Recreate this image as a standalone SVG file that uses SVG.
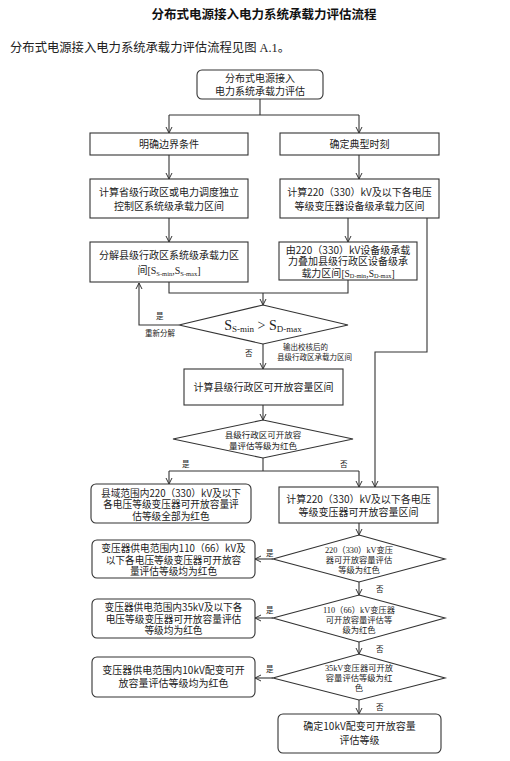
<svg xmlns="http://www.w3.org/2000/svg" width="510" height="761" viewBox="0 0 510 761">
<style>
.bx{fill:#fff;stroke:#333;stroke-width:1.1}
.t{font-family:"Noto Sans CJK SC","Liberation Sans",sans-serif;font-size:10px;fill:#222;text-anchor:middle}
.t3{font-family:"Noto Sans CJK SC","Liberation Sans",sans-serif;font-size:9.7px;fill:#222;text-anchor:middle}
.ts{font-family:"Liberation Serif","Noto Sans CJK SC",serif;font-size:8.3px;fill:#222;text-anchor:middle}
.td{font-family:"Noto Sans CJK SC","Liberation Sans",sans-serif;font-size:8.5px;fill:#222;text-anchor:middle}
.lb{font-family:"Noto Sans CJK SC","Liberation Sans",sans-serif;font-size:7.5px;fill:#222}
.sr{font-family:"Liberation Serif","Noto Sans CJK SC",serif;fill:#222}
.c{fill:none;stroke:#333;stroke-width:1.1}
</style>
<defs>
<marker id="a" markerWidth="8" markerHeight="8" refX="7" refY="4" orient="auto" markerUnits="userSpaceOnUse"><path d="M1,1 L7,4 L1,7" fill="none" stroke="#333" stroke-width="1"/></marker>
</defs>
<rect width="510" height="761" fill="#fff"/>
<text x="264" y="19" font-family="Noto Sans CJK SC,Liberation Sans,sans-serif" font-size="12.5" font-weight="bold" text-anchor="middle" fill="#111">分布式电源接入电力系统承载力评估流程</text>
<text x="10" y="52" font-family="Liberation Serif,Noto Sans CJK SC,serif" font-size="12.5" fill="#222" textLength="280" lengthAdjust="spacingAndGlyphs">分布式电源接入电力系统承载力评估流程见图 A.1。</text>

<g id="connectors">
<path class="c" d="M260,99 V115 M169,115 H359"/>
<path class="c" d="M169,115 V133" marker-end="url(#a)"/>
<path class="c" d="M359,115 V133" marker-end="url(#a)"/>
<path class="c" d="M169,155 V179" marker-end="url(#a)"/>
<path class="c" d="M359,155 V179" marker-end="url(#a)"/>
<path class="c" d="M169,218 V242" marker-end="url(#a)"/>
<path class="c" d="M348,218 V242" marker-end="url(#a)"/>
<path class="c" d="M427,218 V352 H375 V487" marker-end="url(#a)"/>
<path class="c" d="M169,282 V293 H348 V280"/>
<path class="c" d="M263,293 V305" marker-end="url(#a)"/>
<path class="c" d="M179,325 H139 V283" marker-end="url(#a)"/>
<path class="c" d="M263,344 V369" marker-end="url(#a)"/>
<path class="c" d="M263,405 V420" marker-end="url(#a)"/>
<path class="c" d="M263,458 V471 M169,471 H359"/>
<path class="c" d="M169,471 V484" marker-end="url(#a)"/>
<path class="c" d="M359,471 V487" marker-end="url(#a)"/>
<path class="c" d="M359,523 V535" marker-end="url(#a)"/>
<path class="c" d="M273,559 H255" marker-end="url(#a)"/>
<path class="c" d="M359,582 V595" marker-end="url(#a)"/>
<path class="c" d="M273,618 H255" marker-end="url(#a)"/>
<path class="c" d="M359,642 V654" marker-end="url(#a)"/>
<path class="c" d="M273,678 H255" marker-end="url(#a)"/>
<path class="c" d="M359,700 V714" marker-end="url(#a)"/>
<text class="lb" x="156" y="319">是</text>
<text class="lb" x="145" y="336">重新分解</text>
<text class="lb" x="245" y="356">否</text>
<text class="lb" x="283" y="350">输出校核后的</text>
<text class="lb" x="277" y="360">县级行政区承载力区间</text>
<text class="lb" x="182" y="467">是</text>
<text class="lb" x="340" y="467">否</text>
<text class="lb" x="266" y="556">是</text>
<text class="lb" x="376" y="592">否</text>
<text class="lb" x="266" y="613">是</text>
<text class="lb" x="376" y="652">否</text>
<text class="lb" x="266" y="672">是</text>
<text class="lb" x="376" y="710">否</text>
</g>

<g id="start"><rect class="bx" x="197" y="70" width="126" height="29" rx="5"/>
<text class="t" x="260" y="82">分布式电源接入</text><text class="t" x="260" y="95">电力系统承载力评估</text></g>

<g id="boundary"><rect class="bx" x="90" y="133" width="158" height="22"/>
<text class="t" x="169" y="148">明确边界条件</text></g>

<g id="typical"><rect class="bx" x="280" y="133" width="159" height="22"/>
<text class="t" x="359.5" y="148">确定典型时刻</text></g>

<g id="sysCalc"><rect class="bx" x="90" y="179" width="158" height="39"/>
<text class="t" x="169" y="196">计算省级行政区或电力调度独立</text><text class="t" x="169" y="210">控制区系统级承载力区间</text></g>

<g id="devCalc"><rect class="bx" x="280" y="179" width="159" height="39"/>
<text class="t" x="359.5" y="196">计算220（330）kV及以下各电压</text><text class="t" x="359.5" y="210">等级变压器设备级承载力区间</text></g>

<g id="decompose"><rect class="bx" x="90" y="242" width="158" height="40"/>
<text class="t" x="169" y="259">分解县级行政区系统级承载力区</text>
<text class="t" x="169" y="274">间<tspan class="sr" font-size="10">[S</tspan><tspan class="sr" font-size="6.5" dy="1.5">S-min</tspan><tspan class="sr" font-size="10" dy="-1.5">,S</tspan><tspan class="sr" font-size="6.5" dy="1.5">S-max</tspan><tspan class="sr" font-size="10" dy="-1.5">]</tspan></text></g>

<g id="overlay"><rect class="bx" x="279" y="242" width="138" height="38"/>
<text class="t" x="348" y="253.5" font-size="9.4">由220（330）kV设备级承载</text><text class="t" x="348" y="265" font-size="9.4">力叠加县级行政区设备级承</text>
<text class="t" x="348" y="276.5" font-size="9.4">载力区间<tspan class="sr" font-size="9.5">[S</tspan><tspan class="sr" font-size="6.3" dy="1.5">D-min</tspan><tspan class="sr" font-size="9.5" dy="-1.5">,S</tspan><tspan class="sr" font-size="6.3" dy="1.5">D-max</tspan><tspan class="sr" font-size="9.5" dy="-1.5">]</tspan></text></g>

<g id="check"><polygon class="bx" points="263,305 348,325 263,344 179,325"/>
<text class="sr" x="263" y="330" text-anchor="middle" font-size="14">S<tspan font-size="9" dy="2">S-min</tspan><tspan dy="-2"> &gt; S</tspan><tspan font-size="9" dy="2">D-max</tspan></text></g>

<g id="countyCalc"><rect class="bx" x="184" y="369" width="159" height="36"/>
<text class="t" x="263.5" y="391" font-size="10.5">计算县级行政区可开放容量区间</text></g>

<g id="countyRed"><polygon class="bx" points="263,420 353,439 263,458 173,439"/>
<text class="td" x="263" y="438">县级行政区可开放容</text><text class="td" x="263" y="449">量评估等级为红色</text></g>

<g id="allRed"><rect class="bx" x="91" y="484" width="160" height="39" rx="5"/>
<text class="t3" x="171" y="496.5">县域范围内220（330）kV及以下</text><text class="t3" x="171" y="508">各电压等级变压器可开放容量评</text><text class="t3" x="171" y="519.5">估等级全部为红色</text></g>

<g id="trCalc"><rect class="bx" x="279" y="487" width="159" height="36"/>
<text class="t" x="358.5" y="503">计算220（330）kV及以下各电压</text><text class="t" x="358.5" y="516">等级变压器可开放容量区间</text></g>

<g id="d220"><polygon class="bx" points="359,535 445,559 359,582 273,559"/>
<text class="ts" x="359" y="553">220（330）kV变压</text><text class="ts" x="359" y="563">器可开放容量评估</text><text class="ts" x="359" y="573">等级为红色</text></g>

<g id="r110"><rect class="bx" x="92" y="540" width="163" height="38" rx="5"/>
<text class="t3" x="173.5" y="552">变压器供电范围内110（66）kV及</text><text class="t3" x="173.5" y="563.5">以下各电压等级变压器可开放容</text><text class="t3" x="173.5" y="575">量评估等级均为红色</text></g>

<g id="d110"><polygon class="bx" points="359,595 445,618 359,642 273,618"/>
<text class="ts" x="359" y="613">110（66）kV变压器</text><text class="ts" x="359" y="623">可开放容量评估等</text><text class="ts" x="359" y="633">级为红色</text></g>

<g id="r35"><rect class="bx" x="92" y="599" width="163" height="39" rx="5"/>
<text class="t3" x="173.5" y="611">变压器供电范围内35kV及以下各</text><text class="t3" x="173.5" y="622.5">电压等级变压器可开放容量评估</text><text class="t3" x="173.5" y="634">等级均为红色</text></g>

<g id="d35"><polygon class="bx" points="359,654 445,678 359,700 273,678"/>
<text class="ts" x="359" y="671">35kV变压器可开放</text><text class="ts" x="359" y="681">容量评估等级为红</text><text class="ts" x="359" y="691">色</text></g>

<g id="r10"><rect class="bx" x="92" y="657" width="163" height="40" rx="5"/>
<text class="t" x="173.5" y="674">变压器供电范围内10kV配变可开</text><text class="t" x="173.5" y="687">放容量评估等级均为红色</text></g>

<g id="final"><rect class="bx" x="278" y="714" width="163" height="39" rx="5"/>
<text class="t" x="359.5" y="730">确定10kV配变可开放容量</text><text class="t" x="359.5" y="744">评估等级</text></g>
</svg>
